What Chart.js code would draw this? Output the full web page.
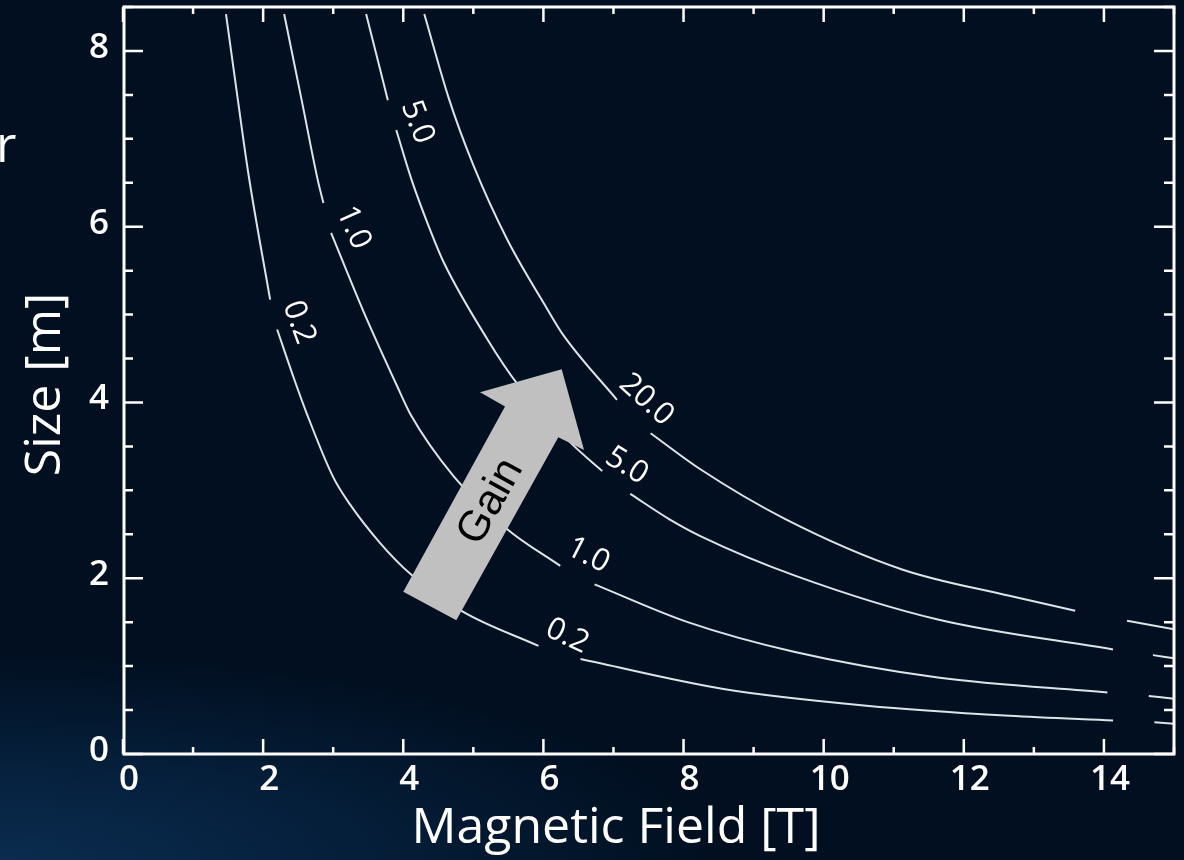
<!DOCTYPE html>
<html>
<head>
<meta charset="utf-8">
<title>Size vs Magnetic Field</title>
<script src="https://cdn.jsdelivr.net/npm/chart.js@4.4.1/dist/chart.umd.min.js"></script>
<style>
  html, body { margin: 0; padding: 0; }
  body {
    width: 1184px; height: 860px; overflow: hidden;
    background: radial-gradient(ellipse 900px 260px at 0% 100%, #0b2c4f 0%, #062240 30%, #010f20 80%), #010f20;
  }
  canvas { display: block; }
</style>
</head>
<body>
<canvas id="myChart" width="1184" height="860"></canvas>
<script>
// contour lines, null = gap where a label sits
const gain02X = [1.47, 1.64, 1.79, 2.10, 2.15, 2.20, 2.45, 2.62, 3.00, 3.24, 3.67, 4.10, 4.85, 5.93, 6.2, 6.53, 8.57, 10.61, 12.65, 14.13];
const gain02Y = [8.42, 7.44, 6.60, 5.17, null, 4.83, 4.25, 3.88, 3.15, 2.84, 2.40, 2.05, 1.62, 1.23, null, 1.08, 0.74, 0.55, 0.435, 0.38];

const gain10X = [2.30, 2.55, 2.78, 2.86, 2.9, 2.97, 3.43, 3.91, 4.10, 4.72, 5.48, 6.24, 6.5, 6.73, 8.06, 9.59, 11.63, 14.05];
const gain10Y = [8.42, 7.44, 6.53, 6.27, null, 5.93, 5.04, 4.19, 3.87, 3.16, 2.56, 2.14, null, 1.93, 1.50, 1.16, 0.87, 0.70];

const gain50X = [3.47, 3.78, 3.84, 3.90, 4.12, 4.39, 4.58, 5.20, 5.62, 6.39, 6.84, 7.0, 7.24, 7.80, 8.24, 9.59, 11.63, 14.13];
const gain50Y = [8.42, 7.44, null, 7.10, 6.53, 5.95, 5.59, 4.72, 4.22, 3.54, 3.22, null, 2.96, 2.67, 2.48, 2.03, 1.53, 1.19];

const gain200X = [4.30, 4.65, 5.00, 5.48, 6.05, 6.29, 7.05, 7.3, 7.53, 8.24, 9.46, 11.12, 12.65, 13.59];
const gain200Y = [8.42, 7.46, 6.70, 5.86, 5.07, 4.76, 4.03, null, 3.65, 3.24, 2.67, 2.10, 1.80, 1.63];

// short pieces at the right edge
const edgeX = [[14.33, 15.0], [14.70, 15.0], [14.64, 15.0], [14.72, 15.0]];
const edgeY = [[1.515, 1.42], [1.125, 1.09], [0.66, 0.63], [0.36, 0.345]];

// contour labels
const labelText = ['0.2', '1.0', '5.0', '20.0', '5.0', '1.0', '0.2'];
const labelX = [2.51, 3.29, 4.20, 7.47, 7.19, 6.64, 6.34];
const labelY = [4.91, 5.99, 7.19, 4.03, 3.28, 2.26, 1.34];
const labelAngle = [70, 66, 69, 42, 32, 27, 25];

// "Gain" arrow outline
const arrowX = [6.261, 6.580, 6.213, 4.757, 4.000, 5.452, 5.095];
const arrowY = [4.379, 3.460, 3.605, 1.523, 1.845, 3.953, 4.117];
const arrowTextX = 5.25;
const arrowTextY = 2.87;

const xTitle = 'Magnetic Field [T]';
const yTitle = 'Size [m]';

function toPoints(xs, ys) {
    return xs.map((x, i) => ({ x: x, y: ys[i] }));
}

const lineStyle = {
    borderColor: '#dde4e8',
    borderWidth: 2,
    pointRadius: 0,
    fill: false,
    spanGaps: false,
    cubicInterpolationMode: 'monotone'
};

const datasets = [
    { ...lineStyle, label: '0.2', data: toPoints(gain02X, gain02Y) },
    { ...lineStyle, label: '1.0', data: toPoints(gain10X, gain10Y) },
    { ...lineStyle, label: '5.0', data: toPoints(gain50X, gain50Y) },
    { ...lineStyle, label: '20.0', data: toPoints(gain200X, gain200Y) }
];
for (let i = 0; i < edgeX.length; i++) {
    datasets.push({ ...lineStyle, label: 'edge' + i, data: toPoints(edgeX[i], edgeY[i]) });
}

// arrow, contour labels, frame with inward ticks, axis titles
const decorations = {
    id: 'decorations',
    afterDatasetsDraw(chart) {
        const { ctx, scales: { x, y } } = chart;
        ctx.save();

        // arrow
        ctx.beginPath();
        for (let i = 0; i < arrowX.length; i++) {
            const px = x.getPixelForValue(arrowX[i]);
            const py = y.getPixelForValue(arrowY[i]);
            if (i === 0) ctx.moveTo(px, py); else ctx.lineTo(px, py);
        }
        ctx.closePath();
        ctx.fillStyle = '#c0c0c0';
        ctx.fill();

        const dx = x.getPixelForValue(arrowX[0]) - (x.getPixelForValue(arrowX[3]) + x.getPixelForValue(arrowX[4])) / 2;
        const dy = y.getPixelForValue(arrowY[0]) - (y.getPixelForValue(arrowY[3]) + y.getPixelForValue(arrowY[4])) / 2;
        ctx.save();
        ctx.translate(x.getPixelForValue(arrowTextX), y.getPixelForValue(arrowTextY));
        ctx.rotate(Math.atan2(dy, dx));
        ctx.fillStyle = '#000';
        ctx.font = '43px "Liberation Sans", Arial, sans-serif';
        ctx.textAlign = 'center';
        ctx.textBaseline = 'middle';
        ctx.fillText('Gain', 0, 0);
        ctx.restore();

        // contour labels
        ctx.fillStyle = '#ffffff';
        ctx.font = '500 31px "Open Sans", sans-serif';
        ctx.textAlign = 'center';
        ctx.textBaseline = 'middle';
        for (let i = 0; i < labelText.length; i++) {
            ctx.save();
            ctx.translate(x.getPixelForValue(labelX[i]), y.getPixelForValue(labelY[i]));
            ctx.rotate(labelAngle[i] * Math.PI / 180);
            ctx.fillText(labelText[i], 0, 0);
            ctx.restore();
        }
        ctx.restore();
    },
    afterDraw(chart) {
        const { ctx, chartArea: a, scales: { x, y } } = chart;
        ctx.save();
        ctx.strokeStyle = '#ffffff';
        ctx.lineWidth = 2.5;
        ctx.beginPath();
        for (let v = 0; v <= 15; v += 1) {
            const px = x.getPixelForValue(v);
            const len = v % 2 === 0 ? 15 : 7;
            ctx.moveTo(px, a.bottom); ctx.lineTo(px, a.bottom - len);
            ctx.moveTo(px, a.top); ctx.lineTo(px, a.top + len);
        }
        for (let v = 0; v <= 8.5; v += 0.5) {
            const py = y.getPixelForValue(v);
            const len = v % 2 === 0 ? 20 : 10;
            ctx.moveTo(a.left, py); ctx.lineTo(a.left + len, py);
            ctx.moveTo(a.right, py); ctx.lineTo(a.right - len, py);
        }
        ctx.stroke();
        ctx.lineWidth = 3;
        ctx.strokeRect(a.left + 1, a.top, a.right - a.left - 1, a.bottom - a.top);

        // axis titles
        ctx.fillStyle = '#ffffff';
        ctx.font = '500 50px "Open Sans", sans-serif';
        ctx.textAlign = 'center';
        ctx.textBaseline = 'alphabetic';
        ctx.fillText(xTitle, 616, 843);
        ctx.save();
        ctx.translate(60, (a.top + a.bottom) / 2 + 4);
        ctx.rotate(-Math.PI / 2);
        ctx.fillText(yTitle, 0, 0);
        ctx.restore();
        // cut-off word at the left edge
        ctx.textAlign = 'left';
        ctx.fillText('r', -4, 162);
        ctx.restore();
    }
};

const tickFont = { family: '"Open Sans", sans-serif', size: 35, weight: '600' };

const ctx = document.getElementById('myChart').getContext('2d');
const myChart = new Chart(ctx, {
    type: 'line',
    data: { datasets: datasets },
    options: {
        responsive: false,
        animation: false,
        layout: { padding: { top: 7, right: 10, left: 0, bottom: 0 } },
        plugins: {
            legend: { display: false },
            tooltip: { enabled: false }
        },
        scales: {
            x: {
                type: 'linear',
                min: 0,
                max: 15,
                grid: { display: false, drawTicks: false },
                border: { display: false },
                ticks: {
                    stepSize: 2,
                    includeBounds: false,
                    color: '#ffffff',
                    font: tickFont,
                    padding: 5,
                    labelOffset: 6,
                    maxRotation: 0,
                    autoSkip: false
                },
                afterFit(scale) {
                    scale.height = 106;
                    scale.paddingLeft = 0;
                    scale.paddingRight = 0;
                }
            },
            y: {
                type: 'linear',
                min: 0,
                max: 8.5,
                grid: { display: false, drawTicks: false },
                border: { display: false },
                ticks: {
                    stepSize: 2,
                    includeBounds: false,
                    color: '#ffffff',
                    font: tickFont,
                    padding: 14,
                    labelOffset: -3,
                    autoSkip: false
                },
                afterFit(scale) {
                    scale.width = 123;
                    scale.paddingTop = 0;
                    scale.paddingBottom = 0;
                }
            }
        }
    },
    plugins: [decorations]
});
</script>
</body>
</html>
